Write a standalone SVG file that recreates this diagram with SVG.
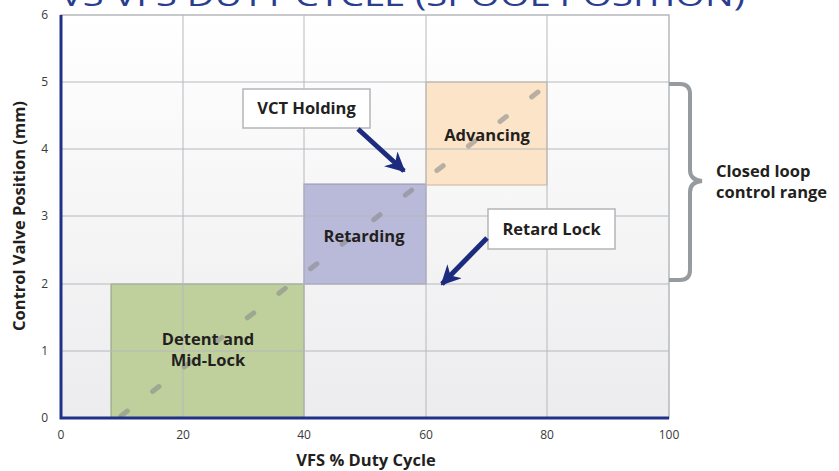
<svg xmlns="http://www.w3.org/2000/svg" width="839" height="471" viewBox="0 0 839 471">
<defs>
<linearGradient id="bg" x1="0" y1="0" x2="0" y2="1">
<stop offset="0" stop-color="#ffffff"/>
<stop offset="1" stop-color="#ececee"/>
</linearGradient>
<marker id="ah" viewBox="0 0 10 10" refX="9" refY="5" markerWidth="4" markerHeight="4" orient="auto" markerUnits="strokeWidth">
<path d="M0,0 L10,5 L0,10 L3,5 Z" fill="#1d2b7e"/>
</marker>
<style>
.grid{stroke:#b5b8bd;stroke-width:1;fill:none}
.tick{font-family:"Open Sans","Liberation Sans",sans-serif;font-size:12px;fill:#3a3a3a}
.lbl{font-family:"Open Sans","Liberation Sans",sans-serif;font-size:16.5px;font-weight:bold;fill:#231f20}
.box{fill:#ffffff;stroke:#b3b5b8;stroke-width:1.5}
.arrow{stroke:#1d2b7e;stroke-width:5;fill:none;marker-end:url(#ah)}
.axis{stroke:#1f3288;stroke-width:3;fill:none}
</style>
</defs>
<text x="60" y="6" font-family="Open Sans, Liberation Sans, sans-serif" font-size="30" fill="#2a3d8f" textLength="685" lengthAdjust="spacingAndGlyphs">VS VFS DUTY CYCLE (SPOOL POSITION)</text>
<g id="plot">
<rect x="61" y="15" width="608" height="403" fill="url(#bg)" stroke="#b5b8bd" stroke-width="1.5"/>
<g id="regions">
<rect x="111" y="284" width="193" height="134" fill="#bfd09d" stroke="#8e9c78" stroke-width="1"/>
<rect x="304" y="184" width="122" height="100" fill="#b9b9d9" stroke="#9393b0" stroke-width="1"/>
<rect x="426" y="82" width="121" height="103" fill="#fce4c8" stroke="#c9b49c" stroke-width="1"/>
</g>
<g class="grid">
<line x1="183" y1="15" x2="183" y2="418"/>
<line x1="304" y1="15" x2="304" y2="418"/>
<line x1="426" y1="15" x2="426" y2="418"/>
<line x1="547" y1="15" x2="547" y2="418"/>
<line x1="61" y1="82" x2="669" y2="82"/>
<line x1="61" y1="149" x2="669" y2="149"/>
<line x1="61" y1="216" x2="669" y2="216"/>
<line x1="61" y1="284" x2="669" y2="284"/>
<line x1="61" y1="351" x2="669" y2="351"/>
</g>
<line x1="121" y1="416" x2="547" y2="85" stroke="#8a8a8a" stroke-opacity="0.6" stroke-width="5" stroke-linecap="round" stroke-dasharray="8 32"/>
<path class="axis" d="M61,15 V418 H669"/>
<g class="tick" text-anchor="end">
<text x="48" y="19">6</text>
<text x="48" y="86">5</text>
<text x="48" y="153">4</text>
<text x="48" y="220">3</text>
<text x="48" y="288">2</text>
<text x="48" y="355">1</text>
<text x="48" y="422">0</text>
</g>
<g class="tick" text-anchor="middle">
<text x="61" y="439">0</text>
<text x="183" y="439">20</text>
<text x="304" y="439">40</text>
<text x="426" y="439">60</text>
<text x="547" y="439">80</text>
<text x="669" y="439">100</text>
</g>
</g>
<text class="lbl" x="366" y="466" text-anchor="middle">VFS % Duty Cycle</text>
<text class="lbl" transform="translate(25,216) rotate(-90)" text-anchor="middle">Control Valve Position (mm)</text>
<g id="detent"><text class="lbl" x="208" y="345" text-anchor="middle">Detent and</text><text class="lbl" x="208" y="366" text-anchor="middle">Mid-Lock</text></g>
<g id="retarding"><text class="lbl" x="364" y="242" text-anchor="middle">Retarding</text></g>
<g id="advancing"><text class="lbl" x="487" y="141" text-anchor="middle">Advancing</text></g>
<g id="vct-holding"><rect class="box" x="243" y="89" width="127" height="39"/><text class="lbl" x="306.5" y="114" text-anchor="middle">VCT Holding</text></g>
<g id="retard-lock"><rect class="box" x="488" y="209" width="127" height="40"/><text class="lbl" x="551.5" y="235" text-anchor="middle">Retard Lock</text></g>
<g id="connectors">
<line class="arrow" x1="358" y1="129" x2="404" y2="171"/>
<line class="arrow" x1="487" y1="238" x2="442" y2="284"/>
</g>
<g id="brace">
<path d="M669,84 H680 Q690,84 690,94 V170 Q690,180 702,181 Q690,182 690,192 V270 Q690,280 680,280 H669" fill="none" stroke="#969ba0" stroke-width="4"/>
<text class="lbl" x="716" y="177">Closed loop</text>
<text class="lbl" x="716" y="198">control range</text>
</g>
</svg>
